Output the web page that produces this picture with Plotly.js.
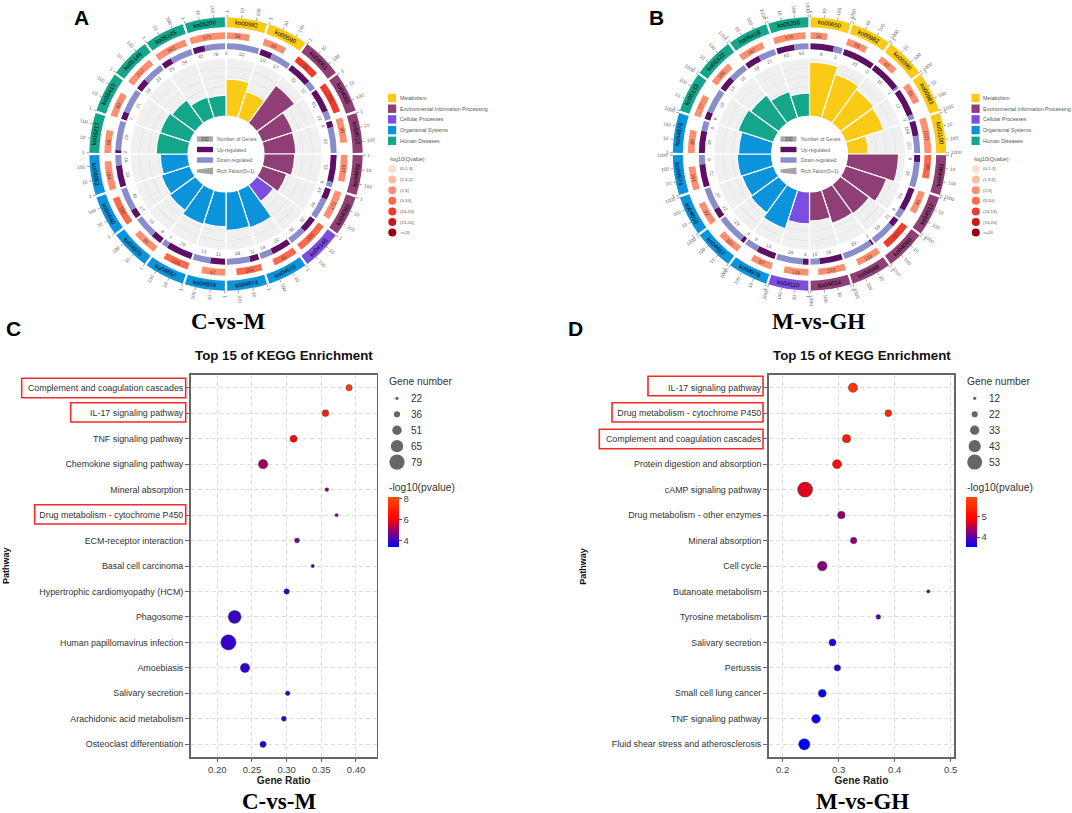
<!DOCTYPE html>
<html><head><meta charset="utf-8">
<script src="https://cdn.plot.ly/plotly-3.0.1.min.js"></script>
<style>html,body{margin:0;padding:0;background:#fff}</style></head>
<body><div id="chart" style="width:1072px;height:813px"></div>
<script>
// ---------- circular panel A ----------
const koA=["ko00982","ko00590","ko04061","ko04060","ko04512","ko04668","ko04080","ko04145","ko04610","ko04974","ko04978","ko04657","ko04970","ko04640","ko04062","ko05217","ko05410","ko05146","ko05165","ko05200"];
const catA=[0,0,1,1,1,1,1,2,3,3,3,3,3,3,3,4,4,4,4,4];
const upA=[0,10,32,61,8,31,14,32,22,11,11,29,8,17,33,2,7,18,25,45];
const downA=[22,17,12,22,32,6,26,36,14,28,13,7,16,43,16,20,21,33,54,78];
const genesA=[58,65,86,265,90,119,172,305,81,104,67,104,86,186,184,59,83,212,365,575];
const qBinA=[2,2,4,4,2,2,2,3,3,3,2,3,2,3,2,2,2,2,2,2];
const richA=[.64,.48,.81,.56,.55,.53,.45,.36,.68,.66,.6,.62,.55,.52,.48,.55,.54,.5,.38,.36];
const ticksA=[1,10,100];
// ---------- circular panel B ----------
const koB=["ko00650","ko00982","ko00380","ko00983","ko01100","ko04061","ko04512","ko04080","ko04668","ko04024","ko04110","ko04978","ko04657","ko04610","ko04974","ko04970","ko05133","ko05322","ko05418","ko05200"];
const catB=[0,0,0,0,0,1,1,1,1,1,2,3,3,3,3,3,4,4,4,4];
const upB=[8,23,15,17,104,9,24,21,2,38,6,13,4,12,22,18,6,13,19,65];
const downB=[3,0,1,3,121,32,9,59,29,15,28,9,29,27,9,8,18,16,21,52];
const genesB=[26,59,43,56,1011,98,85,267,119,220,126,67,101,92,104,86,77,108,167,576];
const qBinB=[2,2,2,2,2,3,2,4,2,2,2,2,2,2,2,2,2,2,2,2];
const richB=[.93,.79,.72,.69,.36,.88,.74,.62,.6,.5,.55,.7,.6,.57,.59,.57,.64,.6,.48,.4];
const ticksB=[1,10,100,1000];
// ---------- shared legends ----------
const catNames=["Metabolism","Environmental Information Processing","Cellular Processes","Organismal Systems","Human Diseases"];
const catColors=["#f9cb16","#8f3f75","#7b4de0","#0b93db","#13a68a"];
const qLabels=["(0,1.3]","(1.3,2]","(2,5]","(5,10]","(10,15]","(15,20]",">=20"];
const qColors=["#fee0d2","#fdbba1","#fc8f70","#fb6a4a","#ef3b2c","#cb181d","#99000d"];
const centerLabels=["Number of Genes","Up-regulated","Down-regulated","Rich Factor(0~1)"];
// ---------- bubble panel C ----------
const pathC=["Complement and coagulation cascades","IL-17 signaling pathway","TNF signaling pathway","Chemokine signaling pathway","Mineral absorption","Drug metabolism - cytochrome P450","ECM-receptor interaction","Basal cell carcinoma","Hypertrophic cardiomyopathy (HCM)","Phagosome","Human papillomavirus infection","Amoebiasis","Salivary secretion","Arachidonic acid metabolism","Osteoclast differentiation"];
const ratioC=[.390,.356,.310,.266,.358,.372,.315,.3376,.300,.225,.216,.240,.3015,.296,.266];
const geneC=[36,38,40,51,24,22,30,22,32,68,79,51,28,30,36];
const logpC=[7.8,6.9,6.2,5.1,4.7,4.6,4.6,4.0,3.95,4.05,4.0,3.9,3.8,3.75,3.75];
const sizeLegC=[22,36,51,65,79];
// ---------- bubble panel D ----------
const pathD=["IL-17 signaling pathway","Drug metabolism - cytochrome P450","Complement and coagulation cascades","Protein digestion and absorption","cAMP signaling pathway","Drug metabolism - other enzymes","Mineral absorption","Cell cycle","Butanoate metabolism","Tyrosine metabolism","Salivary secretion","Pertussis","Small cell lung cancer","TNF signaling pathway","Fluid shear stress and atherosclerosis"];
const ratioD=[.3255,.3886,.314,.297,.24,.3047,.3267,.2707,.46,.3707,.289,.2976,.2707,.2595,.2386];
const geneD=[33,24,29,32,53,27,23,34,12,17,25,23,28,31,40];
const logpD=[5.7,5.5,5.3,5.1,4.75,4.3,4.25,4.25,4.15,3.95,3.7,3.7,3.58,3.58,3.55];
const sizeLegD=[12,22,33,43,53];

const W=1072,H=813;
const SANS="Liberation Sans, Arial, sans-serif", SERIF="Liberation Serif, Times New Roman, serif";
const px=x=>x/W, py=y=>1-y/H;
const traces=[],ann=[],shapes=[];
const layout={width:W,height:H,margin:{l:0,r:0,t:0,b:0},paper_bgcolor:"#fff",plot_bgcolor:"#fff",showlegend:false,font:{family:SANS},annotations:ann,shapes:shapes};

function text(x,y,t,size,color,opt){
  ann.push(Object.assign({x:px(x),y:py(y),xref:"paper",yref:"paper",text:t,showarrow:false,xanchor:"center",yanchor:"middle",borderpad:0,
    font:{size:size,color:color||"#444",family:SANS}},opt||{}));
}
function box(x0,y0,x1,y1,fill,line){
  shapes.push({type:"rect",xref:"paper",yref:"paper",x0:px(x0),x1:px(x1),y0:py(y0),y1:py(y1),fillcolor:fill||"rgba(0,0,0,0)",line:line||{width:0},layer:"above"});
}
function disc(cx,cy,d,fill){
  shapes.push({type:"circle",xref:"paper",yref:"paper",x0:px(cx-d/2),x1:px(cx+d/2),y0:py(cy-d/2),y1:py(cy+d/2),fillcolor:fill,line:{width:0},layer:"above"});
}

// circular chart geometry (pixels = radial units)
const R={hole:38,top:96,dirIn:104.7,dirOut:110.7,qIn:115,qOut:121.7,koIn:126.7,koOut:136.7,tick:139.5,max:150};
const STEP=18,GAP=1,SPAN=STEP-GAP;

function circular(id,cx,cy,ko,cat,up,down,genes,qBin,rich,ticks){
  const start=ko.map((_,i)=>i*STEP+GAP/2);
  const maxLog=Math.log10(Math.max(...genes));
  const polar={domain:{x:[px(cx-R.max),px(cx+R.max)],y:[py(cy+R.max),py(cy-R.max)]},
    bgcolor:"rgba(0,0,0,0)",barmode:"overlay",
    angularaxis:{visible:false,direction:"clockwise",rotation:90,thetaunit:"degrees"},
    radialaxis:{visible:false,range:[0,R.max]}};
  layout[id]=polar;
  const bar=(theta,width,base,r,color,line)=>traces.push({type:"barpolar",subplot:id,theta:theta,width:width,base:base,r:r,
    marker:{color:color,line:line||{width:0}},hoverinfo:"skip",opacity:1});
  const all=ko.map((_,i)=>i*STEP+STEP/2);
  // grey backing
  bar(all,ko.map(()=>STEP),ko.map(()=>R.hole),ko.map(()=>R.top-R.hole),"#f0f0f0",{color:"#fff",width:1.2});
  // faint rings
  [.5,.67,.83].forEach(v=>bar(all,ko.map(()=>STEP-1.2),ko.map(()=>R.hole+v*(R.top-R.hole)),ko.map(()=>.45),"#dcdcdc"));
  // rich factor
  bar(all,ko.map(()=>STEP),ko.map(()=>R.hole),rich.map(v=>v*(R.top-R.hole)),cat.map(c=>catColors[c]),{color:"#fff",width:1.2});
  // direction ring
  const upW=up.map((u,i)=>SPAN*u/(u+down[i])), dnW=down.map((d,i)=>SPAN*d/(up[i]+d));
  bar(start.map((s,i)=>s+upW[i]/2),upW,ko.map(()=>R.dirIn),ko.map(()=>R.dirOut-R.dirIn),"#5c0f65");
  bar(start.map((s,i)=>s+upW[i]+dnW[i]/2),dnW,ko.map(()=>R.dirIn),ko.map(()=>R.dirOut-R.dirIn),"#8a8dcb");
  // gene count ring (log width)
  const qW=genes.map(g=>SPAN*Math.log10(g)/maxLog);
  bar(start.map((s,i)=>s+qW[i]/2),qW,ko.map(()=>R.qIn),ko.map(()=>R.qOut-R.qIn),qBin.map(b=>qColors[b]));
  // outer category ring
  bar(all,ko.map(()=>SPAN),ko.map(()=>R.koIn),ko.map(()=>R.koOut-R.koIn),cat.map(c=>catColors[c]));
  // ticks
  const tt=[],tr=[];
  start.forEach(s=>ticks.forEach(t=>{const a=s+SPAN*Math.log10(t)/maxLog;tt.push(a,a,null);tr.push(R.koOut,R.tick,null);}));
  traces.push({type:"scatterpolar",subplot:id,mode:"lines",theta:tt,r:tr,line:{color:"#777",width:.7},hoverinfo:"skip",connectgaps:false});
  // labels
  const pos=(a,r)=>[cx+r*Math.sin(a*Math.PI/180),cy-r*Math.cos(a*Math.PI/180)];
  const tang=a=>(a<90?a:a<270?a-180:a-360);
  const radial=a=>(a<180?a-90:a-270);
  start.forEach((s,i)=>{
    const mid=s+SPAN/2;
    let p=pos(mid,(R.koIn+R.koOut)/2);
    text(p[0],p[1],ko[i],6,"#000",{textangle:tang(mid)});
    const qm=s+qW[i]/2; p=pos(qm,(R.qIn+R.qOut)/2);
    text(p[0],p[1],String(genes[i]),5,"#6b3a2c",{textangle:tang(qm)});
    const um=s+upW[i]/2; p=pos(um,100.5);
    text(p[0],p[1],String(up[i]),4.8,"#666",{textangle:tang(um)});
    const dm=s+upW[i]+dnW[i]/2; p=pos(dm,100.5);
    text(p[0],p[1],String(down[i]),4.8,"#666",{textangle:tang(dm)});
    ticks.forEach(t=>{const a=s+SPAN*Math.log10(t)/maxLog,lab=String(t);
      const q=pos(a,R.tick+1.5+lab.length*1.5);
      text(q[0],q[1],lab,4.8,"#666",{textangle:radial(a)});});
  });
  // centre key
  const kx=cx-29, rows=[139,149.5,160,171];
  box(kx,rows[0]-2.7,kx+16,rows[0]+2.7,"#aaaaaa");
  text(kx+8,rows[0],"100",4.6,"#444");
  box(kx,rows[1]-2.7,kx+16,rows[1]+2.7,"#5c0f65");
  box(kx,rows[2]-2.7,kx+16,rows[2]+2.7,"#8a8dcb");
  shapes.push({type:"path",xref:"paper",yref:"paper",layer:"above",fillcolor:"#a5a5a5",line:{width:0},
    path:`M ${px(kx)} ${py(rows[3]-1.6)} L ${px(kx+16)} ${py(rows[3]-3.6)} L ${px(kx+16)} ${py(rows[3]+3.6)} L ${px(kx)} ${py(rows[3]+1.6)} Z`});
  centerLabels.forEach((t,i)=>text(kx+19,rows[i],t,5,"#666",{xanchor:"left"}));
  // side legend
  const lx=cx+162;
  catNames.forEach((t,i)=>{const y=98+i*10.7;box(lx,y-4.2,lx+8.2,y+4.2,catColors[i]);text(lx+10.5,y,t,5.2,"#555",{xanchor:"left"});});
  text(lx,159,"-log10(Qvalue)",5.4,"#555",{xanchor:"left"});
  qLabels.forEach((t,i)=>{const y=169+i*10.6;disc(lx+4.3,y,8,qColors[i]);text(lx+10.5,y,t,4.4,"#555",{xanchor:"left"});});
}
circular("polar",226,154,koA,catA,upA,downA,genesA,qBinA,richA,ticksA);
circular("polar2",809.5,154,koB,catB,upB,downB,genesB,qBinB,richB,ticksB);

// bubble chart
const scale=[[0,"#0000ff"],[.56,"#ff0000"],[1,"#ff4a0a"]];
function bubble(sfx,xd,yd,xr,xt,xfmt,paths,ratio,gene,logp,cmin,cmax,cbTicks,diam,sizes,leg){
  const xa="xaxis"+(sfx==1?"":sfx), ya="yaxis"+(sfx==1?"":sfx);
  layout[xa]={domain:[px(xd[0]),px(xd[1])],range:xr,tickvals:xt,ticktext:xt.map(v=>v.toFixed(xfmt)),anchor:"y"+(sfx==1?"":sfx),
    showline:true,mirror:true,linecolor:"#666",linewidth:1.6,ticks:"outside",ticklen:3,tickcolor:"#666",tickfont:{size:9.5,color:"#444"},
    showgrid:true,gridcolor:"#dcdcdc",griddash:"4px,3px",gridwidth:1,zeroline:false,automargin:false,
    title:{text:"<b>Gene Ratio</b>",font:{size:10.2,color:"#222"},standoff:3}};
  layout[ya]={domain:[py(yd[1]),py(yd[0])],type:"category",categoryorder:"array",categoryarray:paths,range:[14.5,-.5],anchor:"x"+(sfx==1?"":sfx),
    showline:true,mirror:true,linecolor:"#666",linewidth:1.6,ticks:"outside",ticklen:4,tickcolor:"#666",tickfont:{size:8.9,color:"#333"},
    showgrid:true,gridcolor:"#dcdcdc",griddash:"4px,3px",gridwidth:1,zeroline:false,automargin:false,
    title:{text:"",font:{size:9.5}}};
  traces.push({type:"scatter",mode:"markers",xaxis:"x"+(sfx==1?"":sfx),yaxis:"y"+(sfx==1?"":sfx),x:ratio,y:paths,cliponaxis:false,hoverinfo:"skip",
    marker:{size:gene.map(diam),sizemode:"diameter",opacity:1,color:logp,cmin:cmin,cmax:cmax,colorscale:scale,line:{color:"#444",width:.5},
      colorbar:{x:px(leg.x),xanchor:"left",y:py(496.5),yanchor:"top",lenmode:"pixels",len:50,thicknessmode:"pixels",thickness:11,xpad:0,ypad:0,outlinewidth:0,borderwidth:0,
        tickvals:cbTicks,ticks:"outside",ticklen:3,tickcolor:"#555",tickfont:{size:9.5,color:"#444"}}}});
  text(leg.x,381.7,"Gene number",10.3,"#333",{xanchor:"left"});
  sizes.forEach((s,i)=>{const y=398.3+i*15.95;disc(leg.x+9,y,diam(s),"#666");text(leg.x+22.3,y,String(s),10,"#333",{xanchor:"left"});});
  text(leg.x,487,"-log10(pvalue)",10.3,"#333",{xanchor:"left"});
  text((xd[0]+xd[1])/2,355,"<b>Top 15 of KEGG Enrichment</b>",13.3,"#111");
}
bubble(1,[190.7,376.7],[375,757],[.1616,.4299],[.2,.25,.3,.35,.4],2,pathC,ratioC,geneC,logpC,3.42,8.22,[4,6,8],n=>3.3+(n-22)*.21,sizeLegC,{x:388});
bubble(2,[768.7,954.3],[375,757],[.175,.5064],[.2,.3,.4,.5],1,pathD,ratioD,geneD,logpD,3.54,6,[4,5],n=>3.3+(n-12)*.285,sizeLegD,{x:965.7});
text(6,566,"<b>Pathway</b>",9,"#111",{textangle:-90});
text(582.7,566,"<b>Pathway</b>",9,"#111",{textangle:-90});

// highlight boxes
const RED={color:"#f62a2a",width:1.6};
[[21.7,378.3,185.7,397.7],[70.7,402.7,185.7,422],[34.7,504.7,185.7,524],
 [648,376.3,763,395.7],[612,402.7,763,422],[599.3,429.3,763,448.7]].forEach(b=>box(b[0],b[1],b[2],b[3],null,RED));

// panel letters and captions
[["A",81,17],["B",656,17],["C",13,328],["D",575,328]].forEach(l=>text(l[1],l[2],"<b>"+l[0]+"</b>",21,"#000"));
[["C-vs-M",228,321.7],["M-vs-GH",818,321.7],["C-vs-M",278.7,801.7],["M-vs-GH",862.5,801.7]].forEach(l=>
  ann.push({x:px(l[1]),y:py(l[2]),xref:"paper",yref:"paper",text:"<b>"+l[0]+"</b>",showarrow:false,xanchor:"center",yanchor:"middle",font:{family:SERIF,size:23,color:"#000"}}));

Plotly.newPlot("chart",traces,layout,{displayModeBar:false,staticPlot:true});
</script></body></html>
